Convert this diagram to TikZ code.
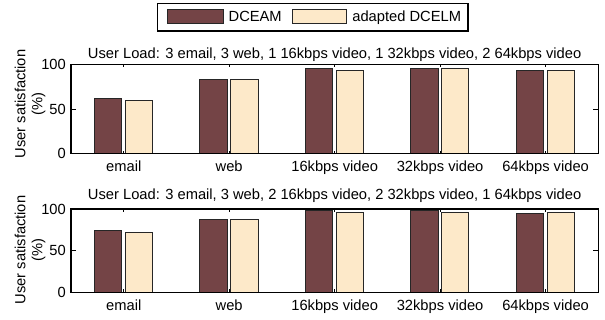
\documentclass[tikz,border=0pt]{standalone}
\usepackage{fontspec}
\setmainfont{Liberation Sans}
\usetikzlibrary{positioning}

\definecolor{dceam}{RGB}{116,68,70}
\definecolor{adapted}{RGB}{253,233,201}

\tikzset{
  darkbar/.style={fill=dceam, draw=black!85, line width=0.9pt},
  lightbar/.style={fill=adapted, draw=black!85, line width=0.9pt},
  frame/.style={black, line width=1.5pt},
  axtick/.style={black, line width=0.8pt},
  lab/.style={inner sep=0pt, text depth=0pt, font=\fontsize{14.7}{17.5}\selectfont},
  ylab/.style={inner sep=0pt, align=center, rotate=90, font=\fontsize{14.7}{17}\selectfont}
}

\begin{document}
\begin{tikzpicture}[x=1pt,y=1pt]
            \useasboundingbox (0,0) rectangle (605,320);

            % legend
            \draw[black, line width=1.3pt] (157.3,289) rectangle (468,316.7);
            \node[darkbar, minimum width=56pt, minimum height=14.3pt, inner sep=0pt] (keydceam) at (195.3,303.85) {};
            \node[lab, text height=10.5pt, right=4.7pt of keydceam] (txtdceam) {DCEAM};
            \node[lightbar, minimum width=53.7pt, minimum height=14.3pt, inner sep=0pt] (keyadapted) at (319.15,303.85) {};
            \node[lab, text height=10.5pt, right=5.7pt of keyadapted] (txtadapted) {adapted DCELM};

            % upper panel
            \begin{scope}[shift={(18.27,166.3)}, x=105.46pt, y=0.894pt]
            \filldraw[darkbar] (0.72,0) rectangle (0.98,61.5);
            \filldraw[lightbar] (1.015,0) rectangle (1.273,60);
            \filldraw[darkbar] (1.72,0) rectangle (1.98,83.2);
            \filldraw[lightbar] (2.015,0) rectangle (2.273,83);
            \filldraw[darkbar] (2.72,0) rectangle (2.98,95.3);
            \filldraw[lightbar] (3.015,0) rectangle (3.273,93.5);
            \filldraw[darkbar] (3.72,0) rectangle (3.98,95.3);
            \filldraw[lightbar] (4.015,0) rectangle (4.273,95.3);
            \filldraw[darkbar] (4.72,0) rectangle (4.98,93.5);
            \filldraw[lightbar] (5.015,0) rectangle (5.273,93.5);

            \draw[axtick] (1,100) -- ++(0,-3pt) (2,100) -- ++(0,-3pt) (3,100) -- ++(0,-3pt)
                          (4,100) -- ++(0,-3pt) (5,100) -- ++(0,-3pt);
            \draw[axtick] (1,0) -- ++(0,3pt) (2,0) -- ++(0,3pt) (3,0) -- ++(0,3pt)
                          (4,0) -- ++(0,3pt) (5,0) -- ++(0,3pt);
            \draw[axtick] (0.5,50) -- ++(5pt,0) (5.5,50) -- ++(-5pt,0);
            \draw[frame] (0.5,0) rectangle (5.5,100);

            \node[lab, anchor=east, xshift=-5pt] (upy0) at (0.5,0) {0};
            \node[lab, anchor=east, xshift=-5pt] (upy50) at (0.5,50) {50};
            \node[lab, anchor=east, xshift=-5pt] (upy100) at (0.5,100) {100};

            \node[lab, anchor=base, yshift=-18.3pt] (upemail) at (1,0) {email};
            \node[lab, anchor=base, yshift=-18.3pt] (upweb) at (2,0) {web};
            \node[lab, anchor=base, yshift=-18.3pt] (upsixteen) at (3,0) {16kbps video};
            \node[lab, anchor=base, yshift=-18.3pt] (upthirtytwo) at (4,0) {32kbps video};
            \node[lab, anchor=base, yshift=-18.3pt] (upsixtyfour) at (5,0) {64kbps video};

            \node[lab, anchor=base, yshift=6pt] (uptitle) at (3,100)
              {User Load: 3 email, 3 web, 1 16kbps video, 1 32kbps video, 2 64kbps video};
            \end{scope}
            \node[ylab] (upylabel) at (30,216) {User satisfaction\\(\%)};

            % lower panel
            \begin{scope}[shift={(18.27,27.7)}, x=105.46pt, y=0.833pt]
            \filldraw[darkbar] (0.72,0) rectangle (0.98,74.5);
            \filldraw[lightbar] (1.015,0) rectangle (1.273,71.3);
            \filldraw[darkbar] (1.72,0) rectangle (1.98,87.5);
            \filldraw[lightbar] (2.015,0) rectangle (2.273,87.3);
            \filldraw[darkbar] (2.72,0) rectangle (2.98,98);
            \filldraw[lightbar] (3.015,0) rectangle (3.273,96.4);
            \filldraw[darkbar] (3.72,0) rectangle (3.98,98);
            \filldraw[lightbar] (4.015,0) rectangle (4.273,96.4);
            \filldraw[darkbar] (4.72,0) rectangle (4.98,94.5);
            \filldraw[lightbar] (5.015,0) rectangle (5.273,96.4);

            \draw[axtick] (1,100) -- ++(0,-3pt) (2,100) -- ++(0,-3pt) (3,100) -- ++(0,-3pt)
                          (4,100) -- ++(0,-3pt) (5,100) -- ++(0,-3pt);
            \draw[axtick] (1,0) -- ++(0,3pt) (2,0) -- ++(0,3pt) (3,0) -- ++(0,3pt)
                          (4,0) -- ++(0,3pt) (5,0) -- ++(0,3pt);
            \draw[axtick] (0.5,50) -- ++(5pt,0) (5.5,50) -- ++(-5pt,0);
            \draw[frame] (0.5,0) rectangle (5.5,100);

            \node[lab, anchor=east, xshift=-5pt] (lowy0) at (0.5,0) {0};
            \node[lab, anchor=east, xshift=-5pt] (lowy50) at (0.5,50) {50};
            \node[lab, anchor=east, xshift=-5pt] (lowy100) at (0.5,100) {100};

            \node[lab, anchor=base, yshift=-18.3pt] (lowemail) at (1,0) {email};
            \node[lab, anchor=base, yshift=-18.3pt] (lowweb) at (2,0) {web};
            \node[lab, anchor=base, yshift=-18.3pt] (lowsixteen) at (3,0) {16kbps video};
            \node[lab, anchor=base, yshift=-18.3pt] (lowthirtytwo) at (4,0) {32kbps video};
            \node[lab, anchor=base, yshift=-18.3pt] (lowsixtyfour) at (5,0) {64kbps video};

            \node[lab, anchor=base, yshift=9pt] (lowtitle) at (3,100)
              {User Load: 3 email, 3 web, 2 16kbps video, 2 32kbps video, 1 64kbps video};
            \end{scope}
            \node[ylab] (lowylabel) at (30,70) {User satisfaction\\(\%)};
        \end{tikzpicture}
\end{document}
